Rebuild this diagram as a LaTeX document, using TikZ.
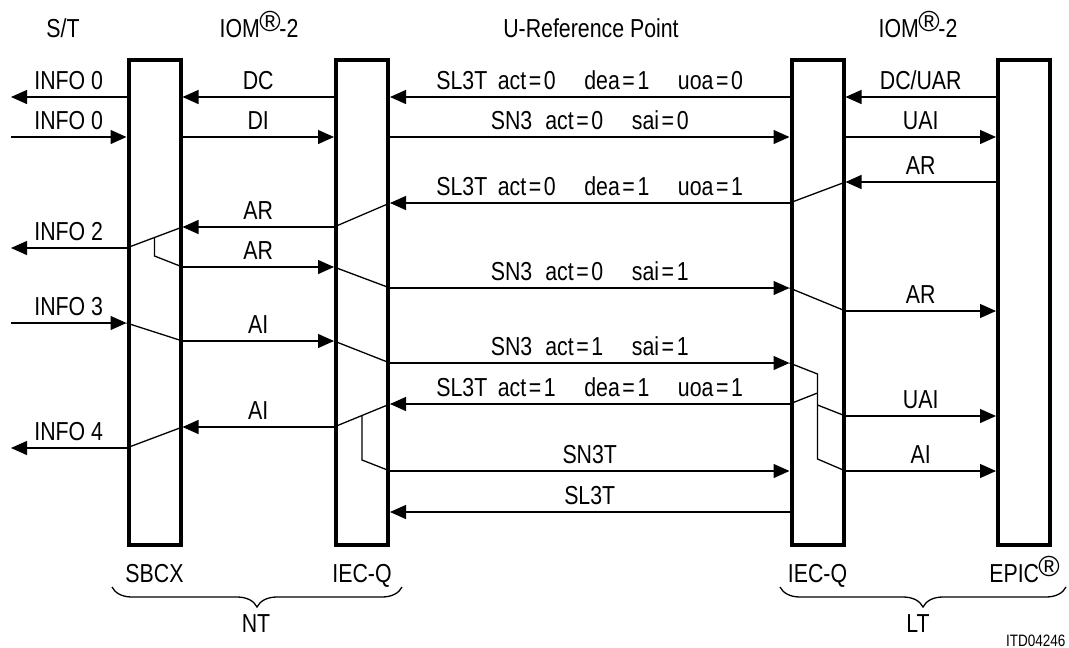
\documentclass[tikz,border=0pt]{standalone}
\usepackage{fontspec}
\setmainfont[FakeStretch=0.82]{Liberation Sans}
\newfontfamily\regfont{Liberation Sans}
\usetikzlibrary{arrows.meta,decorations.pathreplacing}

\newcommand{\eqs}{\kern.1em=\kern.1em}
\newcommand{\regd}{\raisebox{6pt}{\fontsize{29}{29}\regfont\kern-.02em ®\kern-.04em}}

\tikzset{
  chip/.style={draw, line width=4pt, minimum width=52pt, minimum height=485pt, inner sep=0pt},
  sig/.style={line width=1.3pt, -{Triangle[length=16pt,width=14pt]}},
  link/.style={line width=1.3pt},
  lbl/.style={anchor=base, yshift=7.5pt, inner sep=0pt},
  brc/.style={line width=1.3pt, decorate, decoration={brace, amplitude=20pt}},
}

\begin{document}
\begin{tikzpicture}[x=1pt, y=-1pt, font=\fontsize{26}{30}\selectfont]
\useasboundingbox (0,0) rectangle (1069,648);

% Chips
\node[chip] (sbcx) at (154.5,302.5) {};
\node[chip] (ntq) at (362,302.5) {};
\node[chip] (ltq) at (817.5,302.5) {};
\node[chip] (epic) at (1024,302.5) {};
\coordinate (st) at (11,0);

% Headings
\node[anchor=base] (hst) at (63,37) {S/T};
\node[anchor=base] (hiom1) at (259,37) {IOM\regd-2};
\node[anchor=base] (href) at (591,37) {U-Reference Point};
\node[anchor=base] (hiom2) at (918,37) {IOM\regd-2};

% Deactivated state
\draw[sig] (sbcx.west |- 0,97) -- node[lbl] (i0a) {INFO 0} (st |- 0,97);
\draw[sig] (ntq.west |- 0,97) -- node[lbl] (dc) {DC} (sbcx.east |- 0,97);
\draw[sig] (ltq.west |- 0,97) -- node[lbl] (sl1) {SL3T\hspace{.4em}act\eqs0\hspace{1.1em}dea\eqs1\hspace{1.1em}uoa\eqs0} (ntq.east |- 0,97);
\draw[sig] (epic.west |- 0,97) -- node[lbl] (dcuar) {DC/UAR} (ltq.east |- 0,97);

\draw[sig] (st |- 0,137) -- node[lbl] (i0b) {INFO 0} (sbcx.west |- 0,137);
\draw[sig] (sbcx.east |- 0,137) -- node[lbl] (di) {DI} (ntq.west |- 0,137);
\draw[sig] (ntq.east |- 0,137) -- node[lbl] (sn1) {SN3\hspace{.5em}act\eqs0\hspace{1.1em}sai\eqs0} (ltq.west |- 0,137);
\draw[sig] (ltq.east |- 0,137) -- node[lbl] (uai1) {UAI} (epic.west |- 0,137);

% Activation from LT
\draw[sig] (epic.west |- 0,182) -- node[lbl] (ar1) {AR} (ltq.east |- 0,182);
\draw[link] (ltq.east |- 0,182) -- (ltq.west |- 0,203);
\draw[sig] (ltq.west |- 0,203) -- node[lbl] (sl2) {SL3T\hspace{.4em}act\eqs0\hspace{1.1em}dea\eqs1\hspace{1.1em}uoa\eqs1} (ntq.east |- 0,203);
\draw[link] (ntq.east |- 0,203) -- (ntq.west |- 0,227);
\draw[sig] (ntq.west |- 0,227) -- node[lbl] (ar2) {AR} (sbcx.east |- 0,227);
\draw[link] (sbcx.east |- 0,227) -- coordinate[midway] (b1) (sbcx.west |- 0,248);
\draw[sig] (sbcx.west |- 0,248) -- node[lbl] (i2) {INFO 2} (st |- 0,248);
\draw[link] (b1) -- (b1 |- 0,256) -- (sbcx.east |- 0,267);
\draw[sig] (sbcx.east |- 0,267) -- node[lbl] (ar3) {AR} (ntq.west |- 0,267);
\draw[link] (ntq.west |- 0,267) -- (ntq.east |- 0,288);
\draw[sig] (ntq.east |- 0,288) -- node[lbl] (sn2) {SN3\hspace{.5em}act\eqs0\hspace{1.1em}sai\eqs1} (ltq.west |- 0,288);
\draw[link] (ltq.west |- 0,288) -- (ltq.east |- 0,311);
\draw[sig] (ltq.east |- 0,311) -- node[lbl] (ar4) {AR} (epic.west |- 0,311);

% Synchronized state
\draw[sig] (st |- 0,323) -- node[lbl] (i3) {INFO 3} (sbcx.west |- 0,323);
\draw[link] (sbcx.west |- 0,323) -- (sbcx.east |- 0,341);
\draw[sig] (sbcx.east |- 0,341) -- node[lbl] (ai1) {AI} (ntq.west |- 0,341);
\draw[link] (ntq.west |- 0,341) -- (ntq.east |- 0,363);
\draw[sig] (ntq.east |- 0,363) -- node[lbl] (sn3) {SN3\hspace{.5em}act\eqs1\hspace{1.1em}sai\eqs1} (ltq.west |- 0,363);
\draw[link] (ltq.west |- 0,363) -- (ltq.center |- 0,374) -- (ltq.center |- 0,459) -- (ltq.east |- 0,471);
\draw[link] (ltq.center |- 0,393) -- (ltq.west |- 0,404);
\draw[link] (ltq.center |- 0,405) -- (ltq.east |- 0,416);
\draw[sig] (ltq.east |- 0,416) -- node[lbl] (uai2) {UAI} (epic.west |- 0,416);
\draw[sig] (ltq.east |- 0,471) -- node[lbl] (ai2) {AI} (epic.west |- 0,471);
\draw[sig] (ltq.west |- 0,404) -- node[lbl] (sl3) {SL3T\hspace{.4em}act\eqs1\hspace{1.1em}dea\eqs1\hspace{1.1em}uoa\eqs1} (ntq.east |- 0,404);
\draw[link] (ntq.east |- 0,404) -- coordinate[midway] (b2) (ntq.west |- 0,427);
\draw[sig] (ntq.west |- 0,427) -- node[lbl] (ai3) {AI} (sbcx.east |- 0,427);
\draw[link] (sbcx.east |- 0,427) -- (sbcx.west |- 0,448);
\draw[sig] (sbcx.west |- 0,448) -- node[lbl] (i4) {INFO 4} (st |- 0,448);
\draw[link] (b2) -- (b2 |- 0,460) -- (ntq.east |- 0,471);
\draw[sig] (ntq.east |- 0,471) -- node[lbl] (sn3t) {SN3T} (ltq.west |- 0,471);
\draw[sig] (ltq.west |- 0,512) -- node[lbl] (sl3t) {SL3T} (ntq.east |- 0,512);

% Chip names
\node[anchor=base] (lsbcx) at (sbcx.center |- 0,582) {SBCX};
\node[anchor=base] (lntq) at (ntq.center |- 0,582) {IEC-Q};
\node[anchor=base] (lltq) at (ltq.center |- 0,582) {IEC-Q};
\node[anchor=base] (lepic) at (epic.center |- 0,582) {EPIC\regd};

% Braces
\coordinate (ntl) at (112,587);
\coordinate (ntr) at (402,587);
\coordinate (ltl) at (780,587);
\coordinate (ltr) at (1066,587);
\draw[brc] (ntr) -- (ntl);
\draw[brc] (ltr) -- (ltl);
\node[anchor=base] (nt) at (256,632) {NT};
\node[anchor=base] (lt) at (918,632) {LT};
\node[anchor=base east, font=\fontsize{16.5}{18}\selectfont] (itd) at (1069,646) {ITD04246};
\end{tikzpicture}
\end{document}
